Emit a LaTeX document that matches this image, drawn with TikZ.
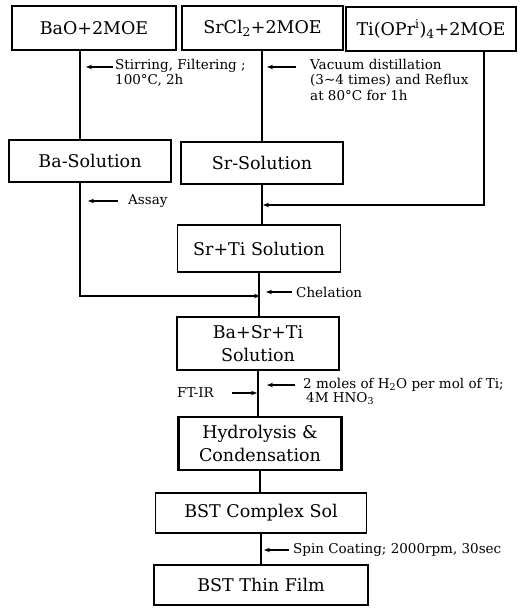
\documentclass[tikz,border=0pt]{standalone}
\usepackage{fontspec}
\setmainfont{DejaVu Serif}
\newfontfamily\symfont{DejaVu Sans}
\usepackage{tikz}
\usetikzlibrary{positioning, arrows.meta, calc}

\tikzset{
  box/.style={draw, line width=1.5pt, inner sep=0pt, font=\fontsize{17.5}{23}\selectfont, align=center},
  lbl/.style={inner sep=0pt, font=\fontsize{13.5}{15.5}\selectfont, align=left},
  flow/.style={line width=1.4pt},
  tip/.style={line width=1.4pt, -{Stealth[length=6pt,width=4.5pt]}}
}

\begin{document}
\begin{tikzpicture}[x=1pt, y=-1pt]
\useasboundingbox (0,0) rectangle (520,609);

\node[box, minimum width=164pt, minimum height=44pt](bao) at (94, 28) {BaO+2MOE};
\node[box, minimum width=161pt, minimum height=44pt](srcl) at (262.5, 28) {SrCl\textsubscript{2}+2MOE};
\node[box, minimum width=170pt, minimum height=44pt](ti) at (431, 29) {Ti(OPr\textsuperscript{i})\textsubscript{4}+2MOE};

\node[box, minimum width=162pt, minimum height=42pt](baso) at (90, 161) {Ba-Solution};
\node[box, minimum width=162pt, minimum height=42pt](srso) at (262, 163) {Sr-Solution};

\node[box, minimum width=163pt, minimum height=47pt](srti) at (259, 248.5) {Sr+Ti Solution};
\node[box, minimum width=162pt, minimum height=53pt](bst) at (258, 343.5) {Ba+Sr+Ti\\Solution};
\node[box, line width=2.2pt, minimum width=163pt, minimum height=53pt](hyd) at (260, 443.5) {Hydrolysis \&\\Condensation};
\node[box, minimum width=211pt, minimum height=40pt](sol) at (261, 513) {BST Complex Sol};
\node[box, minimum width=214pt, minimum height=40pt](film) at (261, 585) {BST Thin Film};

\coordinate(bax) at (80, 0);
\coordinate(tix) at (484, 0);
\coordinate(tiin) at (263, 205);
\coordinate(bain) at (260, 296);

\draw[flow] (bao.south -| bax) -- (baso.north -| bax);
\draw[flow] (srcl.south -| srso.north) -- (srso.north);
\draw[flow] (srso.south) -- (srso.south |- srti.north);
\draw[tip] (ti.south -| tix) |- (tiin);
\draw[tip] (baso.south -| bax) |- (bain);
\draw[flow] (srti.south) -- (srti.south |- bst.north);
\draw[flow] (bst.south) -- (bst.south |- hyd.north);
\draw[flow] (hyd.south) -- (hyd.south |- sol.north);
\draw[flow] (sol.south) -- (sol.south |- film.north);

\node[lbl, anchor=north west](stir) at (115, 59) {Stirring, Filtering ;\\100°C, 2h};
\draw[tip] (113,67) -- ++(-27,0);
\node[lbl, anchor=north west](vac) at (310, 59) {Vacuum distillation\\(3{\symfont∼}4 times) and Reflux\\at 80°C for 1h};
\draw[tip] (296,67) -- ++(-29,0);
\node[lbl, anchor=west](assay) at (128, 201) {Assay};
\draw[tip] (118,201) -- ++(-30,0);
\node[lbl, anchor=west](chel) at (296, 292) {Chelation};
\draw[tip] (292,292) -- ++(-26,0);
\node[lbl, anchor=north west, font=\fontsize{13.5}{12.5}\selectfont](hno) at (303, 378) {2 moles of H\textsubscript{2}O per mol of Ti;\\\hspace*{3pt}4M HNO\textsubscript{3}};
\draw[tip] (295,385) -- ++(-28,0);
\node[lbl, anchor=west](ftir) at (177, 393) {FT-IR};
\draw[tip] (232,393) -- ++(25,0);
\node[lbl, anchor=west](spin) at (293, 550) {Spin Coating; 2000rpm, 30sec};
\draw[tip] (289,550) -- ++(-25,0);
\end{tikzpicture}
\end{document}
